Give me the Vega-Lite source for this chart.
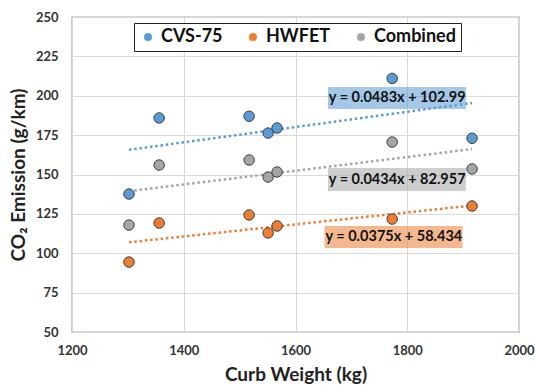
{
  "$schema": "https://vega.github.io/schema/vega-lite/v6.json",
  "width": 447,
  "height": 315,
  "autosize": "none",
  "padding": {"left": 72, "top": 17, "right": 17, "bottom": 58},
  "background": "white",
  "config": {
    "font": "Lato",
    "view": {"stroke": "#595959", "strokeWidth": 1.2},
    "axis": {
      "labelFont": "Lato", "labelFontWeight": "bold", "labelFontSize": 13, "labelColor": "#333333", "labelFlush": false,
      "titleFont": "Lato", "titleFontWeight": "bold", "titleFontSize": 19, "titleColor": "#222222",
      "gridColor": "#D9D9D9", "gridWidth": 1, "ticks": false, "domain": false
    }
  },
  "datasets": {
    "pts": [
      {"weight": 1302, "series": "CVS-75", "co2": 137.6},
      {"weight": 1356, "series": "CVS-75", "co2": 185.9},
      {"weight": 1517, "series": "CVS-75", "co2": 187.0},
      {"weight": 1551, "series": "CVS-75", "co2": 176.3},
      {"weight": 1567, "series": "CVS-75", "co2": 179.5},
      {"weight": 1773, "series": "CVS-75", "co2": 211.0},
      {"weight": 1916, "series": "CVS-75", "co2": 173.0},
      {"weight": 1302, "series": "HWFET", "co2": 94.4},
      {"weight": 1356, "series": "HWFET", "co2": 119.2},
      {"weight": 1517, "series": "HWFET", "co2": 124.3},
      {"weight": 1551, "series": "HWFET", "co2": 112.9},
      {"weight": 1567, "series": "HWFET", "co2": 117.3},
      {"weight": 1773, "series": "HWFET", "co2": 121.7},
      {"weight": 1916, "series": "HWFET", "co2": 130.0},
      {"weight": 1302, "series": "Combined", "co2": 117.9},
      {"weight": 1356, "series": "Combined", "co2": 156.0},
      {"weight": 1517, "series": "Combined", "co2": 159.2},
      {"weight": 1551, "series": "Combined", "co2": 148.4},
      {"weight": 1567, "series": "Combined", "co2": 151.6},
      {"weight": 1773, "series": "Combined", "co2": 170.6},
      {"weight": 1916, "series": "Combined", "co2": 153.5}
    ],
    "eqs": [
      {"series": "CVS-75", "label": "y = 0.0483x + 102.99", "x": 1782, "y": 198.6, "x1": 1658, "x2": 1905, "y1": 191.6, "y2": 205.6},
      {"series": "Combined", "label": "y = 0.0434x + 82.957", "x": 1782, "y": 146.8, "x1": 1658, "x2": 1905, "y1": 139.5, "y2": 154.1},
      {"series": "HWFET", "label": "y = 0.0375x + 58.434", "x": 1776, "y": 110.3, "x1": 1652, "x2": 1899, "y1": 103.3, "y2": 117.3}
    ]
  },
  "encoding": {
    "x": {
      "type": "quantitative",
      "scale": {"domain": [1200, 2000], "nice": false, "zero": false},
      "axis": {"values": [1200, 1400, 1600, 1800, 2000], "format": "d", "title": "Curb Weight (kg)", "labelPadding": 12, "titlePadding": 8}
    },
    "y": {
      "type": "quantitative",
      "scale": {"domain": [50, 250], "nice": false, "zero": false},
      "axis": {"values": [50, 75, 100, 125, 150, 175, 200, 225, 250], "title": "CO₂ Emission (g/km)", "labelPadding": 14, "titlePadding": 7}
    },
    "color": {
      "field": "series", "type": "nominal",
      "scale": {"domain": ["CVS-75", "HWFET", "Combined"], "range": ["#5B9BD5", "#ED7D31", "#A5A5A5"]},
      "legend": {
        "title": null, "orient": "none", "direction": "horizontal",
        "legendX": 62, "legendY": 6,
        "symbolType": "circle", "symbolSize": 60, "symbolStrokeWidth": 0.5, "symbolStrokeColor": "#777777", "symbolOpacity": 1,
        "labelFont": "Lato", "labelFontSize": 18, "labelFontWeight": "bold", "labelColor": "#111111",
        "columnPadding": 21,
        "strokeColor": "#222222", "fillColor": "white", "padding": 5
      }
    }
  },
  "layer": [
    {
      "data": {"name": "eqs"},
      "mark": {"type": "rect", "opacity": 0.55},
      "encoding": {
        "x": {"field": "x1", "type": "quantitative"},
        "x2": {"field": "x2"},
        "y": {"field": "y1", "type": "quantitative"},
        "y2": {"field": "y2"}
      }
    },
    {
      "data": {"name": "pts"},
      "transform": [{"regression": "co2", "on": "weight", "groupby": ["series"]}],
      "mark": {"type": "line", "strokeDash": [2.5, 2.8], "strokeWidth": 2.5, "strokeCap": "butt"},
      "encoding": {
        "x": {"field": "weight", "type": "quantitative"},
        "y": {"field": "co2", "type": "quantitative"}
      }
    },
    {
      "data": {"name": "pts"},
      "mark": {"type": "point", "filled": true, "opacity": 1, "size": 110, "stroke": "#404040", "strokeWidth": 1},
      "encoding": {
        "x": {"field": "weight", "type": "quantitative"},
        "y": {"field": "co2", "type": "quantitative"}
      }
    },
    {
      "data": {"name": "eqs"},
      "mark": {"type": "text", "font": "Lato", "fontWeight": "bold", "fontSize": 14.5},
      "encoding": {
        "x": {"field": "x", "type": "quantitative"},
        "y": {"field": "y", "type": "quantitative"},
        "text": {"field": "label"},
        "color": {"value": "#111111"}
      }
    }
  ]
}
